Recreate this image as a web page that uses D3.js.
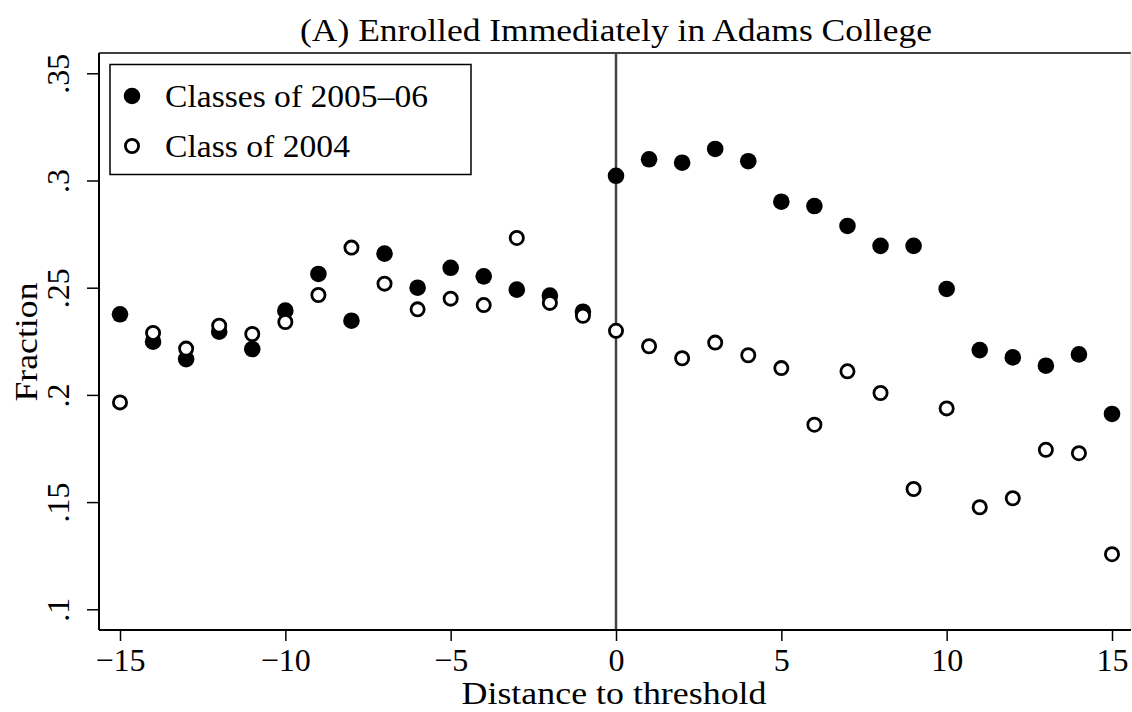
<!DOCTYPE html>
<html>
<head>
<meta charset="utf-8">
<script src="https://cdn.jsdelivr.net/npm/d3@7"></script>
<style>
  body { margin: 0; background: #fff; }
  svg { display: block; }
  text { font-family: "Liberation Serif", "Times New Roman", serif; fill: #000; }
</style>
</head>
<body>
<svg id="chart" width="1132" height="712"></svg>
<script>
// ---- data ----
const distances = [-15,-14,-13,-12,-11,-10,-9,-8,-7,-6,-5,-4,-3,-2,-1,0,1,2,3,4,5,6,7,8,9,10,11,12,13,14,15];
const classes2005_06 = [0.2376,0.2248,0.2167,0.2295,0.2214,0.2393,0.2564,0.2346,0.2659,0.2500,0.2593,0.2553,0.2491,0.2463,0.2388,0.3022,0.3099,0.3083,0.3147,0.3090,0.2901,0.2881,0.2788,0.2695,0.2695,0.2494,0.2209,0.2175,0.2136,0.2189,0.1911];
const class2004 = [0.1965,0.2289,0.2216,0.2323,0.2284,0.2340,0.2466,0.2687,0.2519,0.2399,0.2449,0.2419,0.2732,0.2429,0.2369,0.2299,0.2227,0.2171,0.2244,0.2185,0.2125,0.1861,0.2110,0.2009,0.1561,0.1937,0.1476,0.1518,0.1744,0.1728,0.1257];
const xTicks = [-15,-10,-5,0,5,10,15];
const yTicks = [0.1,0.15,0.2,0.25,0.3,0.35];
const yTickLabels = [".1",".15",".2",".25",".3",".35"];
const legendLabels = ["Classes of 2005\u201306","Class of 2004"];
const titleText = "(A) Enrolled Immediately in Adams College";
const xTitle = "Distance to threshold";
const yTitle = "Fraction";

// ---- layout ----
const svg = d3.select("#chart");
const L = 99, R = 1131, T = 53, B = 630;
const x = d3.scaleLinear().domain([-15,15]).range([120,1112]);
const y = d3.scaleLinear().domain([0.1,0.35]).range([609.3,73.3]);
const fs = 32;

// frame (top and right)
svg.append("line").attr("x1",L).attr("x2",R).attr("y1",T).attr("y2",T).attr("stroke","#000").attr("stroke-width",1.5);
svg.append("line").attr("x1",R).attr("x2",R).attr("y1",T).attr("y2",B).attr("stroke","#ccc").attr("stroke-width",1);

// vertical line at threshold
svg.append("line").attr("x1",x(0)).attr("x2",x(0)).attr("y1",T).attr("y2",B).attr("stroke","#444").attr("stroke-width",2.5);

// axes
const xAxis = d3.axisBottom(x).tickValues(xTicks).tickSize(11).tickPadding(6)
  .tickFormat(d => d < 0 ? "\u2212" + Math.abs(d) : String(d));
const gx = svg.append("g").attr("transform",`translate(0,${B})`).call(xAxis);
gx.select(".domain").attr("d",`M${L},0H${R}`).attr("stroke","#000").attr("stroke-width",2);
gx.selectAll(".tick line").attr("stroke","#000").attr("stroke-width",1.5);
gx.selectAll(".tick text").attr("font-size",fs).attr("font-family","Liberation Serif")
  .attr("y",41).attr("dy",null);

const yAxis = d3.axisLeft(y).tickValues(yTicks).tickSize(12)
  .tickFormat((d,i) => yTickLabels[i]);
const gy = svg.append("g").attr("transform",`translate(${L},0)`).call(yAxis);
gy.select(".domain").attr("d",`M0,${T}V${B}`).attr("stroke","#000").attr("stroke-width",2);
gy.selectAll(".tick line").attr("stroke","#000").attr("stroke-width",1.5);
gy.selectAll(".tick text")
  .attr("font-size",fs).attr("font-family","Liberation Serif")
  .attr("x",null).attr("dy",null)
  .attr("text-anchor","middle")
  .attr("transform","translate(-30,0) rotate(-90)");

// points
const data1 = distances.map((d,i)=>({x:d,y:classes2005_06[i]}));
const data2 = distances.map((d,i)=>({x:d,y:class2004[i]}));
svg.append("g").selectAll("circle").data(data1).join("circle")
  .attr("cx",d=>x(d.x)).attr("cy",d=>y(d.y)).attr("r",8.3).attr("fill","#000");
svg.append("g").selectAll("circle").data(data2).join("circle")
  .attr("cx",d=>x(d.x)).attr("cy",d=>y(d.y)).attr("r",6.6).attr("fill","#fff").attr("stroke","#000").attr("stroke-width",2.8);

// legend
const lg = svg.append("g");
lg.append("rect").attr("x",110).attr("y",64.5).attr("width",361).attr("height",110).attr("fill","#fff").attr("stroke","#000").attr("stroke-width",1.5);
lg.append("circle").attr("cx",132).attr("cy",96).attr("r",8.3).attr("fill","#000");
lg.append("circle").attr("cx",132).attr("cy",146).attr("r",6.6).attr("fill","#fff").attr("stroke","#000").attr("stroke-width",2.8);
const legendWidths = [263,185];
lg.selectAll("text.leg").data(legendLabels).join("text").attr("class","leg")
  .attr("x",165).attr("y",(d,i)=>107+i*50).attr("font-size",fs)
  .attr("textLength",(d,i)=>legendWidths[i]).attr("lengthAdjust","spacingAndGlyphs")
  .text(d=>d);

// titles
svg.append("text").attr("x",616).attr("y",41).attr("text-anchor","middle").attr("font-size",fs)
  .attr("textLength",632).attr("lengthAdjust","spacingAndGlyphs").text(titleText);
svg.append("text").attr("x",614).attr("y",704).attr("text-anchor","middle").attr("font-size",fs)
  .attr("textLength",305).attr("lengthAdjust","spacingAndGlyphs").text(xTitle);
svg.append("text").attr("transform","translate(37,342) rotate(-90)").attr("text-anchor","middle").attr("font-size",fs)
  .attr("textLength",119).attr("lengthAdjust","spacingAndGlyphs").text(yTitle);
</script>
</body>
</html>
